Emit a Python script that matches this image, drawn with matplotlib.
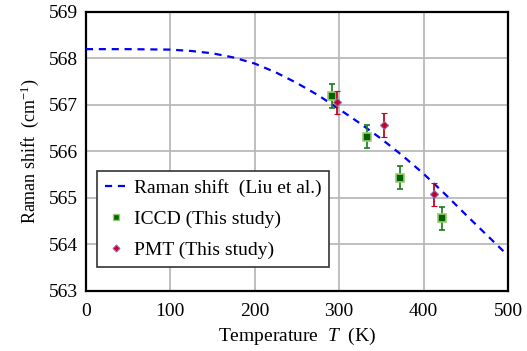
#Raman shift vs temperature with measured points
import numpy as np
import matplotlib
matplotlib.use('Agg')
import matplotlib.pyplot as plt
from matplotlib.lines import Line2D

plt.rcParams['font.family'] = ['Liberation Serif', 'DejaVu Serif']
plt.rcParams['mathtext.fontset'] = 'custom'
plt.rcParams['mathtext.rm'] = 'Liberation Serif'
plt.rcParams['mathtext.it'] = 'Liberation Serif:italic'

#Liu et al. curve
T_liu = [0, 50, 100, 125, 150, 175, 200, 225, 250, 275, 300,
         325, 350, 375, 400, 425, 450, 475, 500]
w_liu = [568.20, 568.20, 568.19, 568.16, 568.11, 568.02, 567.89, 567.70,
         567.47, 567.21, 566.91, 566.60, 566.27, 565.91, 565.52, 565.09,
         564.64, 564.20, 563.76]

#ICCD points
T_iccd = [292, 332.5, 372, 422]
w_iccd = [567.19, 566.32, 565.44, 564.56]
e_iccd = [0.25, 0.25, 0.25, 0.25]

#PMT points
T_pmt = [298, 352.5, 412]
w_pmt = [567.06, 566.57, 565.08]
e_pmt = [0.25, 0.25, 0.25]

#setting up plot
fig = plt.figure(figsize=(5.27, 3.51), dpi=100)
ax = fig.add_axes([0.163, 0.171, 0.801, 0.795])

ax.plot(T_liu, w_liu, color='blue', lw=1.6, dashes=(3.2, 2.6), zorder=3)

ax.errorbar(T_iccd, w_iccd, yerr=e_iccd, fmt='s', color='#006400',
            ms=6, mfc='#006400', mec='#9acd70', mew=1.2,
            ecolor='#1a7a1a', elinewidth=1.2, capsize=2.5, capthick=1.2, zorder=4)
ax.errorbar(T_pmt, w_pmt, yerr=e_pmt, fmt='D', color='#cc0020',
            ms=4.5, mfc='#cc0020', mec='#8070c0', mew=0.8,
            ecolor='#cc0020', elinewidth=1.3, capsize=2.5, capthick=1.3, zorder=5)

ax.set_xlim(0, 500)
ax.set_ylim(563, 569)
ax.set_xticks(range(0, 501, 100))
ax.set_yticks(range(563, 570))
ax.grid(True, color='#b4b4b4', lw=1.2)
ax.set_axisbelow(True)
ax.tick_params(length=0, labelsize=14)
ax.tick_params(axis='x', pad=9)
ax.tick_params(axis='y', pad=6)
for s in ax.spines.values():
    s.set_linewidth(1.6)
    s.set_color('black')

ax.set_xlabel('Temperature  $T$  (K)', fontsize=14, labelpad=4)
ax.set_ylabel('Raman shift  (cm$^{\\mathregular{-1}}$)', fontsize=13, labelpad=5)

handles = [
    Line2D([], [], color='blue', lw=1.6, dashes=(3.2, 2.6)),
    Line2D([], [], ls='none', marker='s', ms=5, mfc='#006400', mec='#9acd70', mew=1),
    Line2D([], [], ls='none', marker='D', ms=3.5, mfc='#cc0020', mec='#8070c0', mew=0.8),
]
labels = ['Raman shift  (Liu et al.)', 'ICCD (This study)', 'PMT (This study)']
leg = ax.legend(handles, labels, loc='lower left', bbox_to_anchor=(0.026, 0.086),
                borderaxespad=0, fontsize=14, fancybox=False, framealpha=1,
                edgecolor='#333333', handlelength=1.2, handletextpad=0.3,
                labelspacing=0.7, borderpad=0.4)
leg.get_frame().set_linewidth(1.2)

plt.savefig('out.png', dpi=100)
